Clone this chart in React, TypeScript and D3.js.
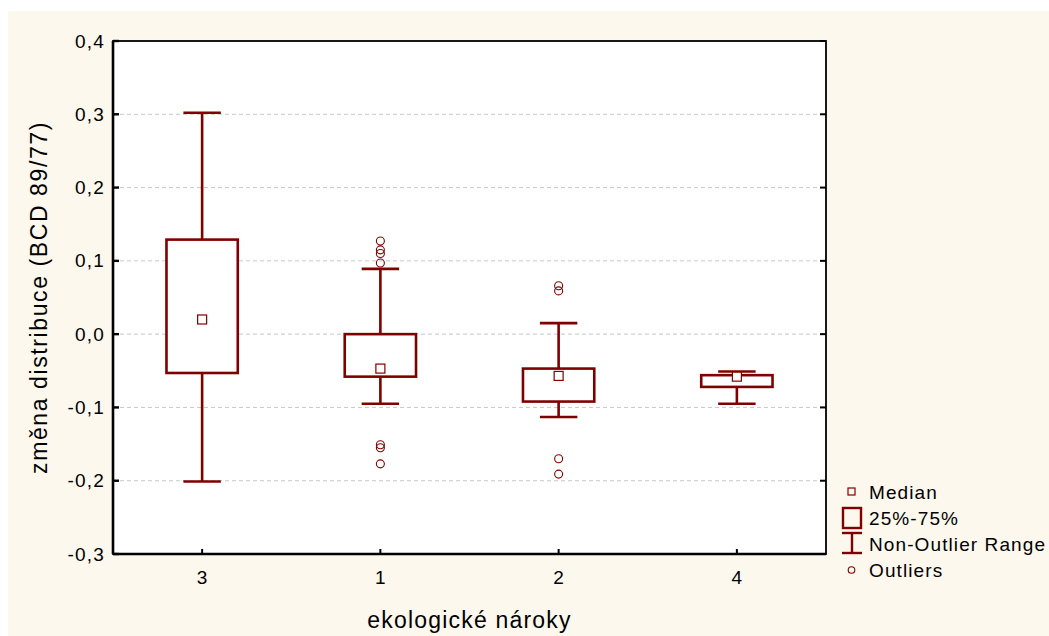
import * as d3 from "d3";

const categories = ["3", "1", "2", "4"];
const medians = [0.02, -0.047, -0.057, -0.058];
const q1 = [-0.053, -0.058, -0.092, -0.072];
const q3 = [0.129, 0.0, -0.047, -0.056];
const whiskerLow = [-0.201, -0.095, -0.113, -0.095];
const whiskerHigh = [0.302, 0.089, 0.015, -0.051];
const outliers = [
  [],
  [0.127, 0.115, 0.11, 0.097, -0.151, -0.155, -0.177],
  [0.066, 0.059, -0.17, -0.191],
  [],
];
const yTicks = [0.4, 0.3, 0.2, 0.1, 0.0, -0.1, -0.2, -0.3];
const legendLabels = ["Median", "25%-75%", "Non-Outlier Range", "Outliers"];

const W = 1049;
const H = 636;
const margin = { top: 41, right: 223, bottom: 82, left: 113 };
const RED = "#800000";
const FONT = "'Liberation Sans', Arial, sans-serif";

export default function App() {
  const innerW = W - margin.left - margin.right;
  const innerH = H - margin.top - margin.bottom;

  const x = d3.scaleBand<string>().domain(categories).range([0, innerW]);
  const y = d3.scaleLinear().domain([-0.3, 0.4]).range([innerH, 0]);
  const fmt = (v: number) => d3.format(".1f")(v).replace(".", ",").replace("−", "-");

  const boxW = x.bandwidth() * 0.4;
  const capW = x.bandwidth() * 0.21;

  // legend position
  const lx = 842;
  const ly = 492;
  const rowH = 26;

  return (
    // fixed so the full-width chart does not make the page scroll
    <div style={{ position: "fixed", left: 0, top: 0 }}>
      <svg width={W} height={H} style={{ display: "block" }} fontFamily={FONT}>
        <rect x={8} y={11} width={W - 8} height={H - 11} fill="#fdf8ee" />
        <g transform={`translate(${margin.left},${margin.top})`}>
          <rect width={innerW} height={innerH} fill="#ffffff" />
          {/* grid */}
          {yTicks.slice(1, -1).map((t) => (
            <line
              key={t}
              x1={0}
              x2={innerW}
              y1={y(t)}
              y2={y(t)}
              stroke="#c8c8c8"
              strokeWidth={1}
              strokeDasharray="4,3"
            />
          ))}
          {/* boxes */}
          {categories.map((c, i) => {
            const cx = (x(c) ?? 0) + x.bandwidth() / 2;
            return (
              <g key={c} stroke={RED} fill="none">
                <line x1={cx} x2={cx} y1={y(whiskerHigh[i])} y2={y(q3[i])} strokeWidth={2.6} />
                <line x1={cx} x2={cx} y1={y(q1[i])} y2={y(whiskerLow[i])} strokeWidth={2.6} />
                <line
                  x1={cx - capW / 2}
                  x2={cx + capW / 2}
                  y1={y(whiskerHigh[i])}
                  y2={y(whiskerHigh[i])}
                  strokeWidth={2.6}
                />
                <line
                  x1={cx - capW / 2}
                  x2={cx + capW / 2}
                  y1={y(whiskerLow[i])}
                  y2={y(whiskerLow[i])}
                  strokeWidth={2.6}
                />
                <rect
                  x={cx - boxW / 2}
                  y={y(q3[i])}
                  width={boxW}
                  height={y(q1[i]) - y(q3[i])}
                  fill="#ffffff"
                  strokeWidth={2.6}
                />
                <rect
                  x={cx - 4.5}
                  y={y(medians[i]) - 4.5}
                  width={9}
                  height={9}
                  fill="#ffffff"
                  strokeWidth={1.2}
                />
                {outliers[i].map((o, j) => (
                  <circle key={j} cx={cx} cy={y(o)} r={4} fill="none" strokeWidth={1.1} />
                ))}
              </g>
            );
          })}
          {/* frame */}
          <rect width={innerW} height={innerH} fill="none" stroke="#000" strokeWidth={1.8} />
          <line x1={0} x2={0} y1={0} y2={innerH} stroke="#000" strokeWidth={2.6} />
          <line x1={0} x2={innerW} y1={innerH} y2={innerH} stroke="#000" strokeWidth={2.6} />
          {/* y ticks */}
          {yTicks.map((t) => (
            <g key={t}>
              <line x1={0} x2={6} y1={y(t)} y2={y(t)} stroke="#000" strokeWidth={2.4} />
              <line x1={innerW - 6} x2={innerW} y1={y(t)} y2={y(t)} stroke="#000" strokeWidth={2} />
              <text
                x={-8}
                y={y(t)}
                textAnchor="end"
                dominantBaseline="central"
                fontSize={19}
                letterSpacing={1.2}
                fill="#000"
              >
                {fmt(t)}
              </text>
            </g>
          ))}
          {/* x ticks */}
          {categories.map((c) => {
            const cx = (x(c) ?? 0) + x.bandwidth() / 2;
            return (
              <g key={c}>
                <line x1={cx} x2={cx} y1={innerH - 5} y2={innerH} stroke="#000" strokeWidth={2} />
                <text x={cx} y={innerH + 30} textAnchor="middle" fontSize={19} fill="#000">
                  {c}
                </text>
              </g>
            );
          })}
          <text
            x={innerW / 2}
            y={innerH + 74}
            textAnchor="middle"
            fontSize={23}
            letterSpacing={1.2}
            fill="#000"
          >
            ekologické nároky
          </text>
          <text
            transform={`translate(${-66},${innerH / 2}) rotate(-90)`}
            textAnchor="middle"
            fontSize={23}
            letterSpacing={1.6}
            fill="#000"
          >
            změna distribuce (BCD 89/77)
          </text>
        </g>
        {/* legend */}
        <g fontSize={19} letterSpacing={1.1} fill="#000">
          <rect x={lx + 6} y={ly - 4} width={7} height={7} fill="none" stroke={RED} strokeWidth={1.2} />
          <rect
            x={lx + 1}
            y={ly + rowH - 10}
            width={18}
            height={20}
            fill="none"
            stroke={RED}
            strokeWidth={2.4}
          />
          <g stroke={RED} strokeWidth={2.4}>
            <line x1={lx} x2={lx + 20} y1={ly + 2 * rowH - 11} y2={ly + 2 * rowH - 11} />
            <line x1={lx} x2={lx + 20} y1={ly + 2 * rowH + 9} y2={ly + 2 * rowH + 9} />
            <line x1={lx + 10} x2={lx + 10} y1={ly + 2 * rowH - 11} y2={ly + 2 * rowH + 9} />
          </g>
          <circle cx={lx + 9.5} cy={ly + 3 * rowH} r={3.3} fill="none" stroke={RED} strokeWidth={1.1} />
          {legendLabels.map((l, i) => (
            <text key={l} x={lx + 27} y={ly + i * rowH} dominantBaseline="central">
              {l}
            </text>
          ))}
        </g>
      </svg>
    </div>
  );
}
